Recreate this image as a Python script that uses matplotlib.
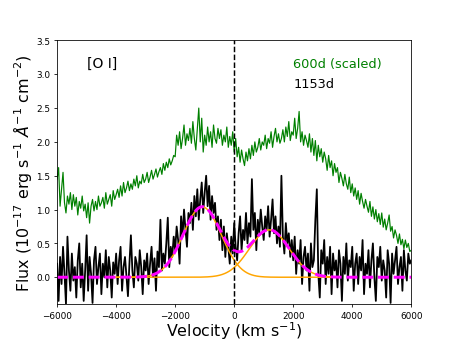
import numpy as np
import matplotlib
matplotlib.use("Agg")
import matplotlib.pyplot as plt

# velocity grid (km/s) shared by both spectra
vel = np.arange(-6000, 6001, 50)

# 600d spectrum, scaled
flux_600 = [
    1.45, 1.62, 1.05, 1.30, 1.55, 1.10, 0.95, 1.20, 1.08, 1.25,
    1.00, 1.22, 1.05, 1.18, 0.92, 1.12, 1.02, 1.20, 0.98, 1.08,
    0.88, 1.10, 0.80, 1.05, 1.15, 0.98, 1.12, 1.00, 1.20, 1.05,
    1.10, 1.18, 1.02, 1.25, 1.08, 1.15, 1.22, 1.05, 1.28, 1.15,
    1.22, 1.30, 1.18, 1.35, 1.20, 1.40, 1.25, 1.32, 1.42, 1.28,
    1.38, 1.30, 1.45, 1.35, 1.50, 1.32, 1.42, 1.38, 1.52, 1.40,
    1.45, 1.55, 1.40, 1.48, 1.58, 1.45, 1.52, 1.60, 1.48, 1.56,
    1.62, 1.52, 1.68, 1.58, 1.70, 1.62, 1.75, 1.66, 1.72, 1.80,
    1.78, 2.10, 1.95, 2.15, 1.90, 2.05, 2.25, 1.95, 2.12, 2.02,
    2.20, 1.98, 2.30, 2.05, 1.88, 2.18, 2.50, 2.00, 2.35, 1.85,
    2.10, 1.95, 2.22, 2.00, 2.15, 1.92, 2.25, 2.05, 1.98, 2.20,
    2.05, 2.18, 1.95, 2.10, 2.00, 2.22, 1.92, 2.08, 1.95, 2.15,
    1.85, 2.05, 1.78, 1.92, 1.70, 1.88, 1.75, 1.65, 1.85, 1.72,
    1.90, 1.75, 1.95, 1.80, 2.00, 1.85, 1.92, 2.05, 1.88, 2.00,
    1.95, 2.10, 1.90, 2.05, 1.98, 2.15, 1.92, 2.08, 2.20, 2.00,
    2.12, 1.98, 2.05, 2.18, 2.00, 2.22, 2.08, 2.30, 2.02, 2.15,
    2.10, 2.35, 2.05, 2.20, 2.45, 2.00, 2.15, 1.95, 2.10, 2.02,
    1.92, 2.12, 1.85, 2.05, 1.80, 2.02, 1.72, 1.95, 1.78, 1.90,
    1.70, 1.85, 1.75, 1.58, 1.80, 1.62, 1.72, 1.50, 1.68, 1.55,
    1.62, 1.40, 1.55, 1.46, 1.35, 1.52, 1.38, 1.30, 1.48, 1.25,
    1.38, 1.20, 1.32, 1.15, 1.28, 1.08, 1.24, 1.12, 1.02, 1.15,
    1.05, 0.96, 1.12, 0.90, 1.04, 0.86, 1.00, 0.82, 0.94, 0.78,
    0.95, 0.74, 0.86, 0.70, 0.80, 0.92, 0.68, 0.75, 0.58, 0.70,
    0.62, 0.50, 0.64, 0.48, 0.56, 0.42, 0.55, 0.44, 0.50, 0.38,
    0.40,
]

# 1153d spectrum
flux_1153 = [
    0.20, -0.35, 0.30, -0.10, 0.45, 0.05, -0.40, 0.60, 0.10, -0.20,
    0.35, -0.05, 0.15, -0.30, 0.25, 0.50, -0.15, 0.20, -0.35, 0.10,
    0.62, -0.20, 0.30, 0.05, -0.38, 0.25, 0.45, -0.10, 0.15, 0.35,
    -0.25, 0.20, 0.00, 0.40, -0.15, 0.30, 0.10, -0.30, 0.22, 0.05,
    0.35, -0.10, 0.25, 0.45, -0.20, 0.15, 0.30, 0.00, -0.28, 0.20,
    0.62, 0.10, -0.15, 0.30, 0.20, -0.05, 0.40, 0.15, -0.25, 0.25,
    0.10, 0.35, -0.10, 0.20, 0.45, 0.00, 0.28, -0.20, 0.38, 0.15,
    0.85, 0.10, 0.35, 0.20, 0.50, 0.88, 0.15, 0.45, 0.30, 0.60,
    0.40, 0.75, 0.55, 0.20, 0.90, 0.60, 1.00, 0.70, 0.45, 0.95,
    0.80, 1.10, 0.70, 1.20, 0.90, 1.30, 0.85, 1.15, 1.40, 0.95,
    1.25, 1.50, 1.05, 1.35, 0.85, 1.20, 0.95, 1.10, 0.70, 0.90,
    0.55, 0.85, 0.40, 0.75, 0.30, 0.65, 0.45, 0.20, 0.60, 0.35,
    0.80, 0.45, 0.25, 0.65, 0.90, 0.40, 0.70, 0.55, 0.95, 0.50,
    0.80, 0.60, 1.45, 0.70, 0.95, 0.40, 0.85, 0.65, 1.00, 0.75,
    0.55, 0.90, 0.70, 1.05, 0.60, 0.85, 1.15, 0.65, 0.90, 0.50,
    0.75, 0.45, 1.50, 0.60, 0.35, 0.80, 0.50, 0.65, 0.30, 0.55,
    0.25, 0.60, 0.05, 0.40, 0.20, 0.55, -0.10, 0.30, 0.45, 0.10,
    0.35, -0.20, 0.50, 0.15, 0.25, 0.85, 1.30, 0.05, -0.30, 0.40,
    0.20, 0.55, -0.10, 0.30, 0.05, 0.45, -0.25, 0.35, 0.10, 0.25,
    -0.15, 0.40, 0.20, -0.35, 0.30, 0.05, 0.50, -0.05, 0.25, 0.15,
    0.45, -0.20, 0.20, 0.35, -0.10, 0.30, 0.10, 0.55, -0.25, 0.20,
    0.05, 0.40, -0.15, 0.25, 0.50, 0.00, -0.35, 0.30, 0.15, 0.45,
    -0.05, 0.25, 0.10, -0.30, 0.40, 0.20, -0.38, 0.35, 0.05, 0.25,
    0.45, -0.10, 0.15, 0.30, -0.20, 0.40, 0.10, -0.05, 0.35, 0.20,
    0.25,
]

# two-gaussian fit: amplitude, centre (km/s), sigma (km/s)
amps = [1.04, 0.70]
centres = [-1085, 1190]
sigmas = [645, 670]
fit_range = [-4000, 3400]

fig, ax = plt.subplots(figsize=(6.4, 4.8))

ax.plot(vel, flux_600, color="green", lw=1.2)
ax.plot(vel, flux_1153, color="black", lw=1.8)

vfit = np.linspace(fit_range[0], fit_range[1], 400)
for a, c, s in zip(amps, centres, sigmas):
    ax.plot(vfit, a * np.exp(-(vfit - c) ** 2 / (2 * s ** 2)), color="orange", lw=1.5)

vtot = np.linspace(-6000, 6000, 800)
total = sum(a * np.exp(-(vtot - c) ** 2 / (2 * s ** 2)) for a, c, s in zip(amps, centres, sigmas))
ax.plot(vtot, total, color="magenta", lw=3, ls="--")

ax.axvline(0, color="black", ls="--", lw=1.5)

ax.text(-5000, 3.1, "[O I]", fontsize=14)
ax.text(2000, 3.1, "600d (scaled)", fontsize=13, color="green")
ax.text(2000, 2.8, "1153d", fontsize=13, color="black")

ax.set_xlim(-6000, 6000)
ax.set_ylim(-0.4, 3.5)
ax.tick_params(labelsize=9)
ax.set_xlabel(r"Velocity (km s$^{-1}$)", fontsize=16, labelpad=-1)
ax.set_ylabel(r"Flux (10$^{-17}$ erg s$^{-1}$ $\AA^{-1}$ cm$^{-2}$)", fontsize=16, labelpad=2)

fig.savefig("out.png", dpi=71.4)
